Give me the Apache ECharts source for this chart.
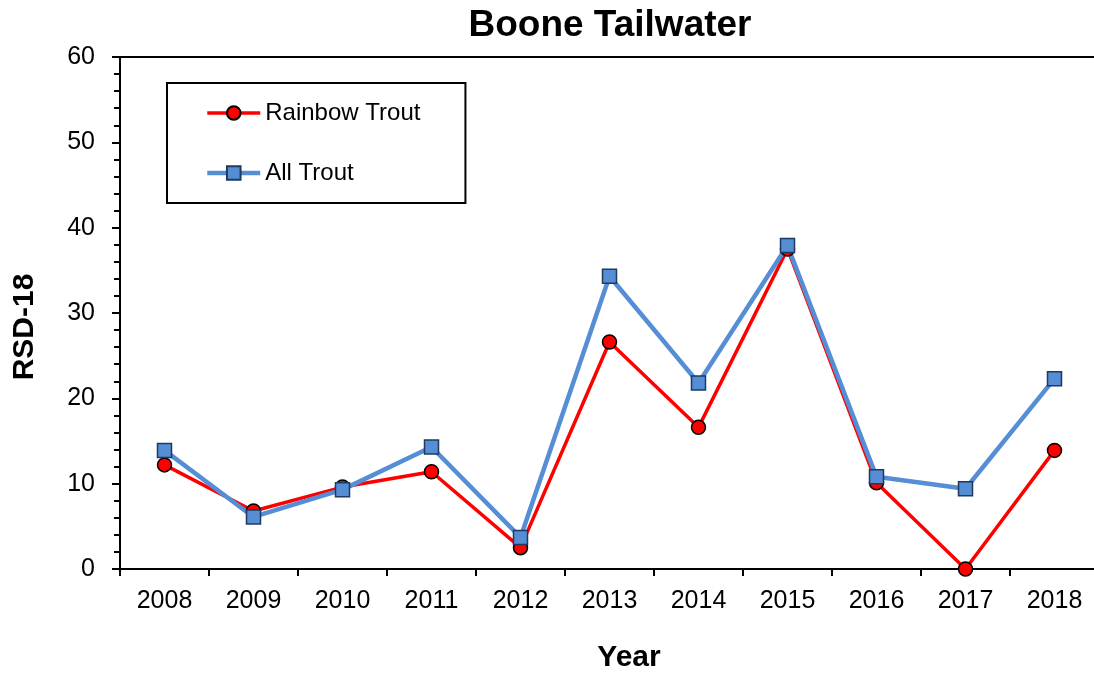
<!DOCTYPE html>
<html>
<head>
<meta charset="utf-8">
<script src="https://cdn.jsdelivr.net/npm/echarts@6/dist/echarts.min.js"></script>
<style>
  html, body { margin: 0; padding: 0; background: #fff; }
  #chart { width: 1094px; height: 676px; }
</style>
</head>
<body>
<div id="chart"></div>
<script>
// Survey years and RSD-18 values for the Boone Tailwater
const years = ['2008', '2009', '2010', '2011', '2012', '2013', '2014', '2015', '2016', '2017', '2018'];
const rainbowTrout = [12.2, 6.8, 9.6, 11.4, 2.5, 26.6, 16.6, 37.5, 10.1, 0, 13.9];
const allTrout = [13.9, 6.1, 9.3, 14.3, 3.7, 34.3, 21.8, 37.9, 10.8, 9.4, 22.3];

const FONT = 'Liberation Sans, Arial, sans-serif';
const RED = '#ff0000';
const BLUE = '#558ed5';

const chart = echarts.init(document.getElementById('chart'), null, { renderer: 'canvas' });

chart.setOption({
  backgroundColor: '#ffffff',
  animation: false,
  textStyle: { fontFamily: FONT, color: '#000' },
  title: {
    text: 'Boone Tailwater',
    left: 605,
    top: 2,
    textAlign: 'center',
    textStyle: { fontFamily: FONT, fontSize: 37, fontWeight: 'bold', color: '#000' }
  },
  grid: {
    left: 120, top: 57, width: 979, bottom: 107,
    containLabel: false,
    outerBoundsMode: 'none',
    show: true, borderColor: '#000', borderWidth: 2, backgroundColor: 'transparent'
  },
  legend: {
    orient: 'vertical',
    left: 167,
    top: 83,
    padding: [17, 45, 17, 38],
    borderColor: '#000',
    borderWidth: 2,
    itemWidth: 53,
    itemHeight: 17,
    itemGap: 34,
    textStyle: { fontFamily: FONT, fontSize: 24, color: '#000', lineHeight: 26 },
    data: [
      { name: 'Rainbow Trout', lineStyle: { color: RED, width: 3.5 } },
      { name: 'All Trout', lineStyle: { color: BLUE, width: 4.5 } }
    ]
  },
  xAxis: {
    type: 'category',
    data: years,
    boundaryGap: true,
    axisLine: { show: true, lineStyle: { color: '#000', width: 2 } },
    axisTick: { show: true, inside: false, length: 7, lineStyle: { color: '#000', width: 2 } },
    axisLabel: { fontFamily: FONT, fontSize: 25, color: '#000', margin: 20 },
    splitLine: { show: false }
  },
  yAxis: {
    type: 'value',
    min: 0, max: 60, interval: 10,
    axisLine: { show: true, lineStyle: { color: '#000', width: 2 } },
    axisTick: { show: true, inside: false, length: 8, lineStyle: { color: '#000', width: 2 } },
    minorTick: { show: true, splitNumber: 5, length: 6, lineStyle: { color: '#000', width: 2 } },
    axisLabel: { fontFamily: FONT, fontSize: 25, color: '#000', margin: 25 },
    splitLine: { show: false }
  },
  graphic: [
    {
      type: 'text', x: 629, y: 658,
      style: { text: 'Year', font: 'bold 30px ' + FONT, fill: '#000', align: 'center', verticalAlign: 'middle' }
    },
    {
      type: 'text', x: 25, y: 327, rotation: Math.PI / 2,
      style: { text: 'RSD-18', font: 'bold 30px ' + FONT, fill: '#000', align: 'center', verticalAlign: 'middle' }
    }
  ],
  series: [
    {
      name: 'Rainbow Trout',
      type: 'line',
      data: rainbowTrout,
      symbol: 'circle',
      symbolSize: 14,
      lineStyle: { color: RED, width: 3.5 },
      itemStyle: { color: RED, borderColor: '#000', borderWidth: 1.5 }
    },
    {
      name: 'All Trout',
      type: 'line',
      data: allTrout,
      symbol: 'rect',
      symbolSize: 14,
      lineStyle: { color: BLUE, width: 4.5 },
      itemStyle: { color: BLUE, borderColor: '#1f3a60', borderWidth: 1.5 }
    }
  ]
});
</script>
</body>
</html>
